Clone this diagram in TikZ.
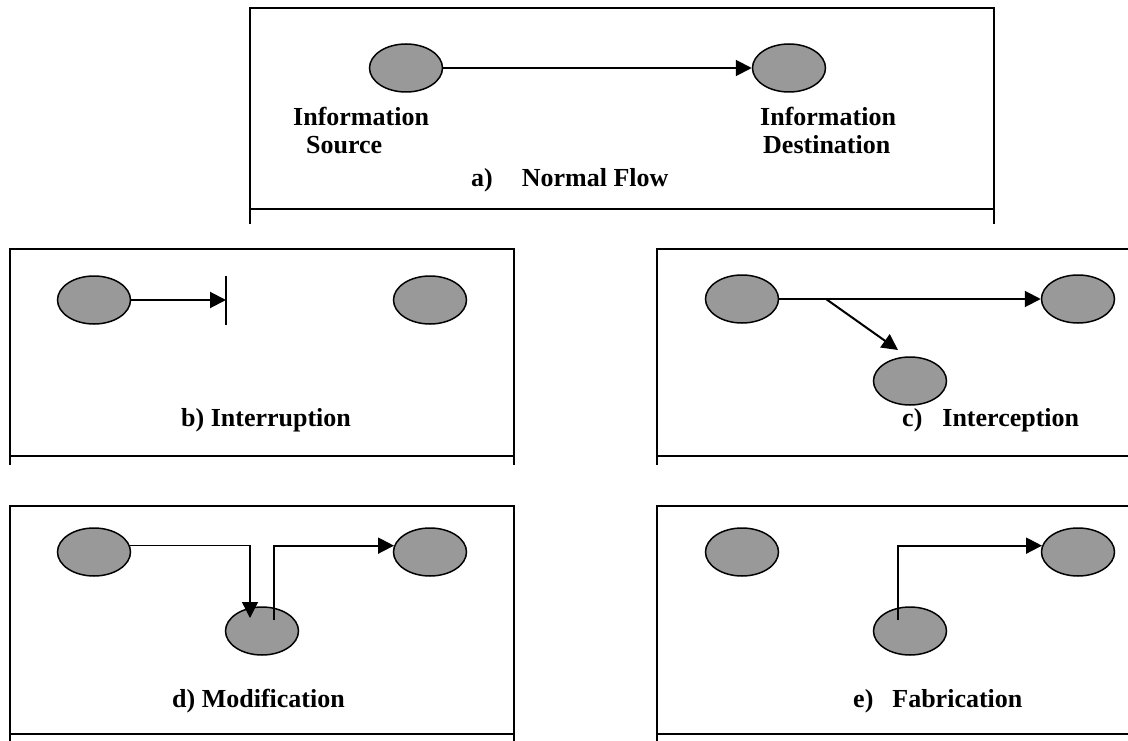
\documentclass[tikz,border=0pt]{standalone}
\usepackage{fontspec}
\setmainfont{Liberation Serif}
\usetikzlibrary{calc, positioning, shapes.geometric, arrows.meta}
\def\hostwidth{73pt}
\def\hostheight{48pt}
\def\framewidth{2pt}
\def\flowwidth{2pt}
\def\tipsize{16pt}
\definecolor{hostfillcolor}{gray}{0.6}
\tikzset{
	% labels
	label_text/.style={
		font=\fontsize{26}{28}\selectfont\bfseries,
		inner sep=0,
		align=left,
	},
	% panels
	panel/.style={
		draw,
		line width=\framewidth,
	},
	% hosts
	host/.style={
		draw,
		fill=hostfillcolor,
		line width=1.5pt,
		shape=ellipse,
		minimum width=\hostwidth,
		minimum height=\hostheight,
		inner sep=0,
	},
	% flows
	flow/.style={
		line width=\flowwidth,
		-{Triangle[length=\tipsize, width=\tipsize]},
	},
	thin_flow/.style={
		flow,
		line width=1.4pt,
	},
	barrier/.style={
		line width=\flowwidth,
	}
}
\begin{document}
\begin{tikzpicture}[x=1pt, y=-1pt]
		\useasboundingbox (0,0) rectangle (1128,741);
		\clip (0,0) rectangle (1128,741);

		% Panels
		\foreach \name/\xa/\ya/\xb/\yb/\yc in {a/250/8/994/209/224, b/10/249/514/456/465, c/657/249/1140/456/465, d/10/506/514/734/745, e/657/506/1140/734/745} {
			\draw[panel] (\xa,\yb) rectangle (\xb,\ya);
			\draw[panel] (\xa,\yb) -- (\xa,\yc);
			\draw[panel] (\xb,\yb) -- (\xb,\yc);
		}

		% a) Normal flow
		\node[host] (a_src) at (406,68) {};
		\node[host] (a_dst) at (789,68) {};
		\node[label_text, anchor=north west] (a_src_label) at (293,107) {Information\\\hspace{13pt}Source};
		\node[label_text, anchor=north west] (a_dst_label) at (760,107) {Information\\\hspace{3pt}Destination};
		\node[label_text, anchor=base west] (a_caption) at (471,187) {a)\hspace{29pt}Normal Flow};
		\draw[flow] (a_src) -- (a_dst);

		% b) Interruption
		\node[host] (b_src) at (94,300) {};
		\node[host] (b_dst) at (430,300) {};
		\coordinate (b_cut) at (226,300);
		\node[label_text, anchor=base west] (b_caption) at (181,426) {b) Interruption};
		\draw[barrier] ($(b_cut)+(0,-24)$) -- ($(b_cut)+(0,25)$);
		\draw[flow] (b_src) -- (b_cut);

		% c) Interception
		\node[host] (c_src) at (742,299) {};
		\node[host] (c_dst) at (1078,299) {};
		\node[host] (c_tap) at (910,381) {};
		\coordinate (c_fork) at (826,299);
		\coordinate (c_hit) at ($(c_tap)+(-12,-31)$);
		\node[label_text, anchor=base west] (c_caption) at (902,426) {c)\hspace{20pt}Interception};
		\draw[flow] (c_src) -- (c_dst);
		\draw[flow] (c_fork) -- (c_hit);

		% d) Modification
		\node[host] (d_src) at (94,552) {};
		\node[host] (d_dst) at (430,552) {};
		\node[host] (d_mid) at (262,631) {};
		\coordinate (d_in) at ($(d_mid)+(-12,-13)$);
		\coordinate (d_out) at ($(d_mid)+(12,-11)$);
		\node[label_text, anchor=base west] (d_caption) at (172,707) {d) Modification};
		\draw[thin_flow] (d_src.10) -| (d_in);
		\draw[flow] (d_out) |- (d_dst.170);

		% e) Fabrication
		\node[host] (e_src) at (742,552) {};
		\node[host] (e_dst) at (1078,552) {};
		\node[host] (e_mid) at (910,631) {};
		\coordinate (e_out) at ($(e_mid)+(-12,-11)$);
		\node[label_text, anchor=base west] (e_caption) at (853,707) {e)\hspace{19pt}Fabrication};
		\draw[flow] (e_out) |- (e_dst.170);
	\end{tikzpicture}
\end{document}
